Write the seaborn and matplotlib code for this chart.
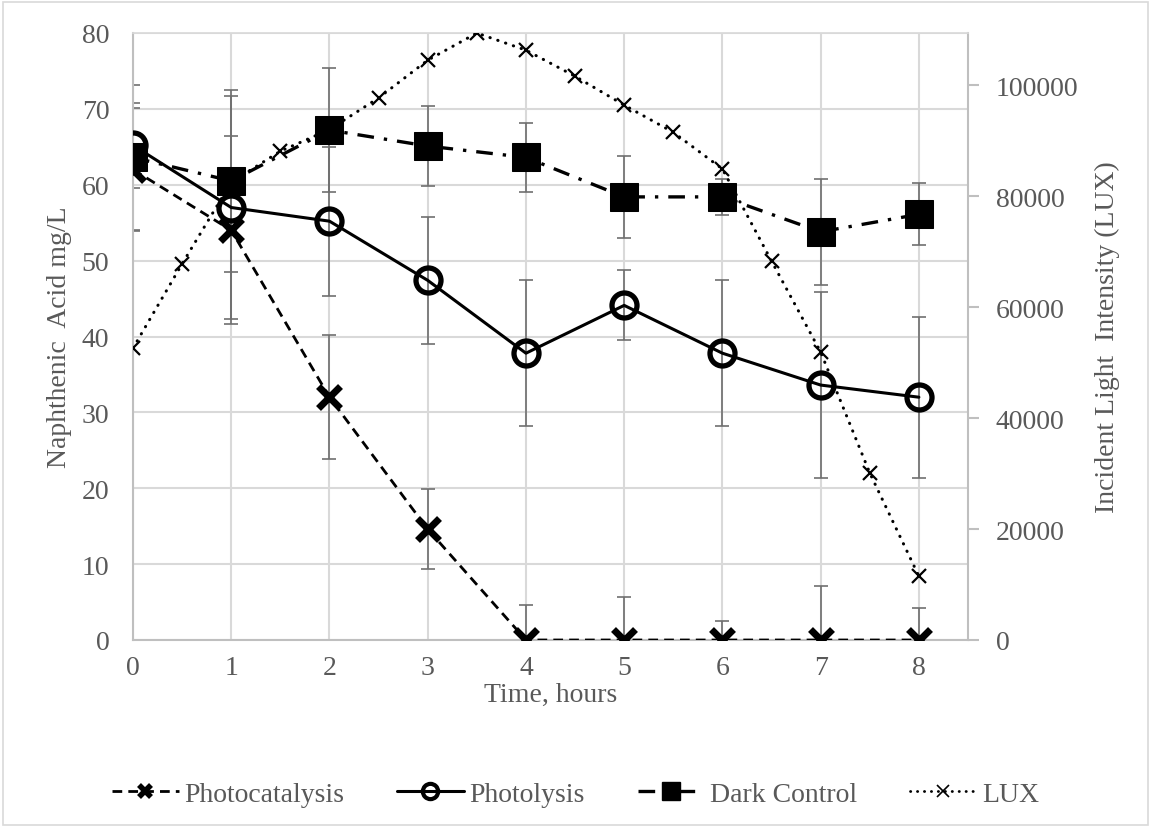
import numpy as np
import pandas as pd
import matplotlib
matplotlib.use("Agg")
import matplotlib.pyplot as plt
from matplotlib.lines import Line2D
from matplotlib.patches import Rectangle
import seaborn as sns

hours = [0, 1, 2, 3, 4, 5, 6, 7, 8]
photocatalysis = [62.0, 54.0, 32.0, 14.6, 0, 0, 0, 0, 0]
photocatalysis_err = [8.1, 12.4, 8.2, 5.3, 4.6, 5.7, 2.5, 7.1, 4.2]
photolysis = [65.2, 57.0, 55.2, 47.4, 37.8, 44.1, 37.8, 33.6, 32.0]
photolysis_err = [5.6, 14.7, 9.8, 8.4, 9.6, 4.6, 9.6, 12.2, 10.6]
dark_control = [63.6, 60.5, 67.2, 65.1, 63.6, 58.4, 58.4, 53.8, 56.1]
dark_control_err = [9.5, 12.0, 8.2, 5.3, 4.5, 5.4, 2.4, 7.0, 4.1]

lux_hours = [0, 0.5, 1, 1.5, 2, 2.5, 3, 3.5, 4, 4.5, 5, 5.5, 6, 6.5, 7, 7.5, 8]
lux = [52600, 67800, 82500, 88100, 92000, 97700, 104500, 109400, 106300,
       101600, 96400, 91500, 84900, 68300, 51900, 30100, 11500]

sns.set_theme(style="white")
plt.rcParams["font.family"] = ["Liberation Serif", "DejaVu Serif"]
grey_text = "#595959"
axis_grey = "#bfbfbf"
grid_grey = "#d9d9d9"
fs = 20

df = pd.DataFrame({
    "hours": hours,
    "Photocatalysis": photocatalysis,
    "Photolysis": photolysis,
    "Dark Control": dark_control,
})
df_lux = pd.DataFrame({"hours": lux_hours, "LUX": lux})

fig = plt.figure(figsize=(11.51, 8.29), dpi=100)
ax = fig.add_axes([133 / 1151, 1 - 641 / 829, 835 / 1151, 607 / 829])

# error bars first, under the markers
for col, err in [("Photocatalysis", photocatalysis_err),
                 ("Photolysis", photolysis_err),
                 ("Dark Control", dark_control_err)]:
    ax.errorbar(df["hours"], df[col], yerr=err, fmt="none", ecolor="#6f6f6f",
                elinewidth=1.2, capsize=5, capthick=1.2, zorder=2)

sns.lineplot(data=df, x="hours", y="Photocatalysis", ax=ax, color="black",
             linewidth=2.0, linestyle=(0, (3.5, 2.2)), marker="x", markersize=16,
             markeredgewidth=5, markeredgecolor="black", zorder=3)
sns.lineplot(data=df, x="hours", y="Photolysis", ax=ax, color="black",
             linewidth=2.2, marker="o", markersize=18, markerfacecolor="none",
             markeredgewidth=3.8, markeredgecolor="black", zorder=4)
sns.lineplot(data=df, x="hours", y="Dark Control", ax=ax, color="black",
             linewidth=2.4, linestyle=(0, (5, 3, 1, 3)), marker="s", markersize=20,
             markerfacecolor="black", markeredgecolor="black", zorder=5)

ax.set_xlim(0, 8.5)
ax.set_ylim(0, 80)
ax.set_xticks(hours)
ax.set_yticks(range(0, 81, 10))
ax.grid(True, color=grid_grey, linewidth=1.5)
ax.set_axisbelow(True)
ax.tick_params(axis="both", length=0, labelsize=fs, labelcolor=grey_text)
ax.tick_params(axis="y", pad=17)
ax.tick_params(axis="x", pad=11)
for side in ["left", "bottom", "right"]:
    ax.spines[side].set_color(axis_grey)
    ax.spines[side].set_linewidth(1.5)
ax.spines["top"].set_color(grid_grey)
ax.set_xlabel("Time, hours", fontsize=fs, color=grey_text, labelpad=1)
ax.set_ylabel("Naphthenic  Acid mg/L", fontsize=fs, color=grey_text, labelpad=7)

ax2 = ax.twinx()
sns.lineplot(data=df_lux, x="hours", y="LUX", ax=ax2, color="black",
             linewidth=2.2, linestyle=(0, (0.1, 2.6)), dash_capstyle="round",
             marker="x", markersize=10, markeredgewidth=1.6, markeredgecolor="black")
ax2.set_ylim(0, 109400)
ax2.set_yticks(range(0, 100001, 20000))
ax2.tick_params(axis="y", length=8, width=1.5, color=axis_grey, pad=12,
                labelsize=fs, labelcolor=grey_text)
for side in ax2.spines:
    ax2.spines[side].set_visible(False)
ax2.set_ylabel("Incident Light  Intensity (LUX)", fontsize=fs, color=grey_text,
               labelpad=12)
ax2.grid(False)

handles = [
    Line2D([], [], color="black", lw=2.0, ls=(0, (3.5, 2.2)), marker="x",
           markersize=9, markeredgewidth=4),
    Line2D([], [], color="black", lw=2.2, marker="o", markersize=11,
           markerfacecolor="none", markeredgewidth=3),
    Line2D([], [], color="black", lw=2.4, ls=(0, (5, 3, 1, 3)), marker="s",
           markersize=13),
    Line2D([], [], color="black", lw=2.0, ls=(0, (0.1, 2.4)), dash_capstyle="round",
           marker="x", markersize=9, markeredgewidth=1.2),
]
labels = ["Photocatalysis", "Photolysis", "Dark Control", "LUX"]
leg = fig.legend(handles, labels, loc="center", bbox_to_anchor=(0.5, 1 - 795 / 829),
                 ncol=4, frameon=False, fontsize=fs, handlelength=2.4,
                 handletextpad=0.2, columnspacing=1.9)
for t in leg.get_texts():
    t.set_color(grey_text)

fig.patches.append(Rectangle((0.003, 0.004), 0.994, 0.992, transform=fig.transFigure,
                             fill=False, edgecolor=grid_grey, linewidth=1.2))

plt.savefig("out.png", dpi=100)
